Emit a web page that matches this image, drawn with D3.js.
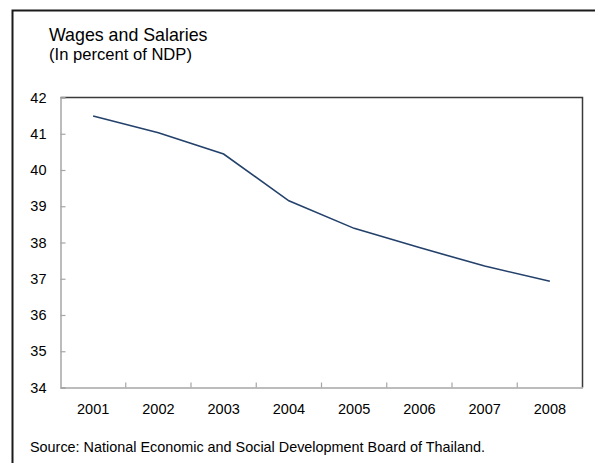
<!DOCTYPE html>
<html>
<head>
<meta charset="utf-8">
<script src="https://cdn.jsdelivr.net/npm/d3@7"></script>
<style>
  html, body { margin: 0; padding: 0; background: #fff; }
  svg { display: block; font-family: "Liberation Sans", Arial, sans-serif; }
</style>
</head>
<body>
<svg id="chart" width="595" height="463"></svg>
<script>
// Wages and salaries as a share of net domestic product, Thailand
const years = ["2001", "2002", "2003", "2004", "2005", "2006", "2007", "2008"];
const wageShare = [41.49, 41.03, 40.44, 39.15, 38.39, 37.86, 37.35, 36.93];
const yTicks = [34, 35, 36, 37, 38, 39, 40, 41, 42];

const svg = d3.select("#chart");

// outer frame (continues past the right and bottom edges)
svg.append("rect")
  .attr("x", 12.5).attr("y", 10.5)
  .attr("width", 700).attr("height", 600)
  .attr("fill", "none").attr("stroke", "#1a1a1a").attr("stroke-width", 2);

// titles
svg.append("text").attr("x", 49).attr("y", 41)
  .attr("font-size", 17.8).attr("fill", "#000").text("Wages and Salaries");
svg.append("text").attr("x", 49).attr("y", 60)
  .attr("font-size", 16.6).attr("fill", "#000").text("(In percent of NDP)");

const plotLeft = 60.5, plotRight = 582.5, plotTop = 97.5, plotBottom = 387.5;

const x = d3.scaleBand().domain(years).range([plotLeft, plotRight]).padding(0);
const y = d3.scaleLinear().domain([34, 42]).range([plotBottom, plotTop]);

// plot frame: dark top and right edges
svg.append("path")
  .attr("d", `M${plotLeft},${plotTop}H${plotRight}V${plotBottom}`)
  .attr("fill", "none").attr("stroke", "#3a3a3a").attr("stroke-width", 1.5);

// y axis
const yAxis = svg.append("g")
  .attr("transform", `translate(${plotLeft},0)`)
  .call(d3.axisLeft(y).tickValues(yTicks).tickSize(-5).tickPadding(14).tickFormat(d3.format("d")));
yAxis.select(".domain").attr("stroke", "#a6a6a6").attr("stroke-width", 1.5);
yAxis.selectAll(".tick line").attr("stroke", "#a6a6a6").attr("stroke-width", 1.2);
yAxis.selectAll(".tick text").attr("font-size", 14.5).attr("fill", "#000")
  .attr("font-family", "Liberation Sans, Arial, sans-serif");

// x axis: labels centred in each band, ticks at band boundaries
const xAxis = svg.append("g")
  .attr("transform", `translate(0,${plotBottom})`)
  .call(d3.axisBottom(x).tickSize(0).tickPadding(16));
xAxis.select(".domain").attr("stroke", "#a6a6a6").attr("stroke-width", 1.5);
xAxis.selectAll(".tick text").attr("font-size", 14.5).attr("fill", "#000")
  .attr("font-family", "Liberation Sans, Arial, sans-serif");

const boundaries = years.slice(1).map(d => x(d));
svg.append("g").selectAll("line").data(boundaries).join("line")
  .attr("x1", d => d).attr("x2", d => d)
  .attr("y1", plotBottom).attr("y2", plotBottom - 5)
  .attr("stroke", "#a6a6a6").attr("stroke-width", 1.2);

// series line
const line = d3.line()
  .x((d, i) => x(years[i]) + x.bandwidth() / 2)
  .y(d => y(d));
svg.append("path")
  .datum(wageShare)
  .attr("d", line)
  .attr("fill", "none").attr("stroke", "#23416b").attr("stroke-width", 1.6);

// source note
svg.append("text").attr("x", 30).attr("y", 452)
  .attr("font-size", 14.4).attr("fill", "#000")
  .text("Source: National Economic and Social Development Board of Thailand.");
</script>
</body>
</html>
